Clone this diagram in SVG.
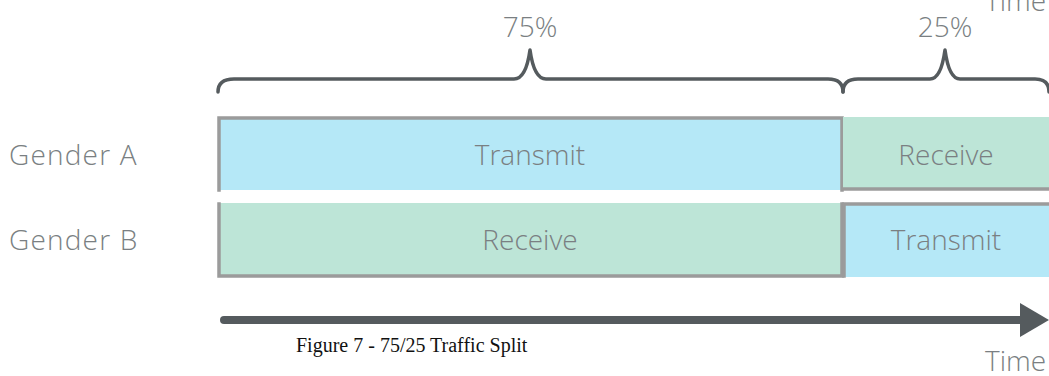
<svg xmlns="http://www.w3.org/2000/svg" width="1049" height="376" viewBox="0 0 1049 376">
<style>
.lbl{font-family:"Open Sans","DejaVu Sans",sans-serif;font-size:28px;fill:#7a7f82;font-weight:300}
.mid{text-anchor:middle}
.side{letter-spacing:1.2px}
.blue{fill:#b5e8f7}
.green{fill:#bde5d7}
.edge{stroke:#9b9b9b;stroke-width:3.5;fill:none;stroke-linecap:square}
.brace{stroke:#555b5e;stroke-width:3.5;fill:none;stroke-linecap:round;stroke-linejoin:round}
.cap{font-family:"Liberation Serif","Times New Roman",serif;font-size:20px;fill:#111}
</style>
<rect width="1049" height="376" fill="#ffffff"/>
<text class="lbl" x="985" y="11">Time</text>
<g id="brace75">
<path class="brace" d="M218,92 Q218,79 234,79 L514,79 Q526,79 530,50 Q534,79 546,79 L828,79 Q843,79 843,92"/>
<text class="lbl mid" x="530" y="37">75%</text>
</g>
<g id="brace25">
<path class="brace" d="M843,92 Q843,79 858,79 L930,79 Q941,79 945,50 Q949,79 960,79 L1035,79 Q1049,79 1049,92"/>
<text class="lbl mid" x="945" y="37">25%</text>
</g>
<text class="lbl side" x="9" y="165">Gender A</text>
<text class="lbl side" x="9" y="250">Gender B</text>
<g id="a-transmit">
<rect class="blue" x="218" y="117" width="625" height="73"/>
<path class="edge" d="M219,190 L219,118 L842,118 L842,190"/>
<text class="lbl mid" x="530" y="165">Transmit</text>
</g>
<g id="a-receive">
<rect class="green" x="843" y="117" width="206" height="73"/>
<path class="edge" d="M844,189 L1049,189"/>
<text class="lbl mid" x="946" y="165">Receive</text>
</g>
<g id="b-receive">
<rect class="green" x="218" y="203" width="625" height="74"/>
<path class="edge" d="M219,204 L219,276 L842,276 L842,204"/>
<text class="lbl mid" x="530" y="250">Receive</text>
</g>
<g id="b-transmit">
<rect class="blue" x="843" y="203" width="206" height="74"/>
<path class="edge" d="M844,276 L844,204 L1049,204"/>
<text class="lbl mid" x="946" y="250">Transmit</text>
</g>
<g id="connectors">
<line x1="224" y1="320" x2="1024" y2="320" stroke="#555b5e" stroke-width="8" stroke-linecap="round"/>
<polygon points="1020,303 1049,320 1020,337" fill="#555b5e"/>
</g>
<text class="cap" x="296" y="352">Figure 7 - 75/25 Traffic Split</text>
<text class="lbl" x="985" y="371">Time</text>
</svg>
